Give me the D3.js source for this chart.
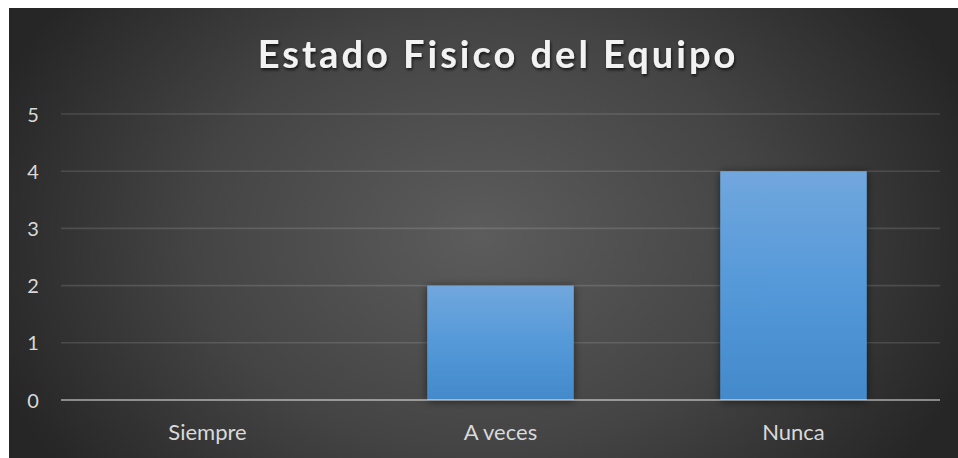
<!DOCTYPE html>
<html>
<head>
<meta charset="utf-8">
<script src="https://cdn.jsdelivr.net/npm/d3@7"></script>
<style>
  html, body { margin: 0; padding: 0; background: #ffffff; }
  svg { display: block; }
</style>
</head>
<body>
<svg id="chart" width="958" height="458"></svg>
<script>
// Survey answers about the physical condition of the team
const categories = ["Siempre", "A veces", "Nunca"];
const counts = [0, 2, 4];
const yTicks = [0, 1, 2, 3, 4, 5];
const chartTitle = "Estado Fisico del Equipo";

const svg = d3.select("#chart");
const W = 958, H = 458;
const panel = { x: 9, y: 8, w: W - 9, h: H - 8 };
const plot = { left: 61, right: 940, top: 114, bottom: 400 };

const defs = svg.append("defs");

// Dark radial background, lighter toward the middle
const bg = defs.append("radialGradient")
  .attr("id", "bgGrad")
  .attr("gradientUnits", "userSpaceOnUse")
  .attr("cx", 480).attr("cy", 235).attr("r", 520)
  .attr("gradientTransform", "translate(480,235) scale(1,0.75) translate(-480,-235)");
bg.append("stop").attr("offset", "0%").attr("stop-color", "#5c5c5c");
bg.append("stop").attr("offset", "55%").attr("stop-color", "#444444");
bg.append("stop").attr("offset", "100%").attr("stop-color", "#262626");

// Bar fill: lighter blue at the top
const barGrad = defs.append("linearGradient")
  .attr("id", "barGrad").attr("x1", 0).attr("y1", 0).attr("x2", 0).attr("y2", 1);
barGrad.append("stop").attr("offset", "0%").attr("stop-color", "#71a7dd");
barGrad.append("stop").attr("offset", "50%").attr("stop-color", "#5599d9");
barGrad.append("stop").attr("offset", "100%").attr("stop-color", "#438acb");

const barShadow = defs.append("filter").attr("id", "barShadow")
  .attr("x", "-20%").attr("y", "-20%").attr("width", "140%").attr("height", "140%");
barShadow.append("feDropShadow")
  .attr("dx", 0).attr("dy", 1).attr("stdDeviation", 4)
  .attr("flood-color", "#000").attr("flood-opacity", 0.55);

const titleShadow = defs.append("filter").attr("id", "titleShadow")
  .attr("x", "-10%").attr("y", "-30%").attr("width", "120%").attr("height", "160%");
titleShadow.append("feDropShadow")
  .attr("dx", 1).attr("dy", 2).attr("stdDeviation", 1.5)
  .attr("flood-color", "#000").attr("flood-opacity", 0.7);

svg.append("rect")
  .attr("x", panel.x).attr("y", panel.y)
  .attr("width", panel.w).attr("height", panel.h)
  .attr("fill", "url(#bgGrad)");

const x = d3.scaleBand()
  .domain(categories)
  .range([plot.left, plot.right])
  .paddingInner(0.5)
  .paddingOuter(0.25);

const y = d3.scaleLinear()
  .domain([0, 5])
  .range([plot.bottom, plot.top]);

// Horizontal gridlines
svg.append("g")
  .selectAll("line")
  .data(yTicks.filter(d => d > 0))
  .join("line")
  .attr("x1", plot.left).attr("x2", plot.right)
  .attr("y1", d => y(d)).attr("y2", d => y(d))
  .attr("stroke", "rgba(255,255,255,0.13)")
  .attr("stroke-width", 1.6);

// Value axis labels
const yAxis = svg.append("g")
  .attr("transform", `translate(${plot.left - 28},0)`)
  .call(d3.axisLeft(y).tickValues(yTicks).tickSize(0).tickPadding(0).tickFormat(d3.format("d")));
yAxis.select(".domain").remove();
yAxis.selectAll("text")
  .attr("text-anchor", "middle")
  .attr("dy", "0.35em")
  .attr("fill", "#d9d9d9")
  .style("font-family", "Lato, 'Open Sans', sans-serif")
  .style("font-size", "20px");

// Bars
svg.append("g")
  .selectAll("rect")
  .data(categories.map((c, i) => ({ c, v: counts[i] })).filter(d => d.v > 0))
  .join("rect")
  .attr("x", d => x(d.c))
  .attr("width", x.bandwidth())
  .attr("y", d => y(d.v))
  .attr("height", d => y(0) - y(d.v))
  .attr("fill", "url(#barGrad)")
  .attr("filter", "url(#barShadow)");

// Category axis
const xAxis = svg.append("g")
  .attr("transform", `translate(0,${plot.bottom})`)
  .call(d3.axisBottom(x).tickSize(0).tickPadding(24));
xAxis.select(".domain")
  .attr("d", `M${plot.left},0H${plot.right}`)
  .attr("stroke", "rgba(255,255,255,0.45)")
  .attr("stroke-width", 2);
xAxis.selectAll("text")
  .attr("fill", "#d9d9d9")
  .style("font-family", "Lato, 'Open Sans', sans-serif")
  .style("font-size", "22px");

// Title
svg.append("text")
  .attr("x", 498).attr("y", 68)
  .attr("text-anchor", "middle")
  .attr("fill", "#f2f2f2")
  .attr("filter", "url(#titleShadow)")
  .style("font-family", "Lato, 'Open Sans', sans-serif")
  .style("font-weight", "bold")
  .style("font-size", "38px")
  .style("letter-spacing", "3px")
  .text(chartTitle);
</script>
</body>
</html>
